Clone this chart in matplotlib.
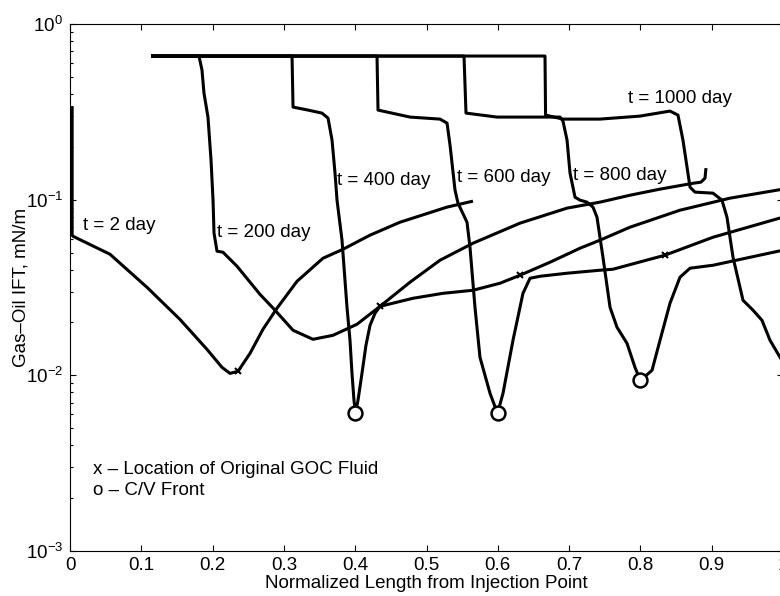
import numpy as np
import matplotlib
matplotlib.use('Agg')
import matplotlib.pyplot as plt
from matplotlib.ticker import LogLocator, NullFormatter

plt.rcParams['font.family'] = ['Liberation Sans', 'DejaVu Sans']
plt.rcParams['mathtext.default'] = 'regular'
plt.rcParams['font.size'] = 13.5

# IFT profiles (normalized length, IFT in mN/m)
x_2 = [0.003, 0.003, 0.0042, 0.0561, 0.108, 0.1543, 0.1921, 0.2132, 0.2244, 0.2356,
       0.2525, 0.2707, 0.2903, 0.3184, 0.3548, 0.3829, 0.4208, 0.4628, 0.5288, 0.5652]
ift_2 = [0.341, 0.0628, 0.0619, 0.0489, 0.0317, 0.0208, 0.01406, 0.0111, 0.01026, 0.01054,
         0.01334, 0.0183, 0.0241, 0.0343, 0.0464, 0.0522, 0.0628, 0.0744, 0.0907, 0.0981]

x_200 = [0.1136, 0.1809, 0.1851, 0.1879, 0.1935, 0.1978, 0.2006, 0.2020, 0.2062, 0.2146,
         0.2342, 0.2665, 0.2875, 0.3128, 0.3408, 0.3689, 0.4025, 0.4348, 0.4769, 0.5189,
         0.5652, 0.6311, 0.6971, 0.7433, 0.7854, 0.8275, 0.8738, 0.8850, 0.8906, 0.8920]
ift_200 = [0.657, 0.657, 0.547, 0.4045, 0.2952, 0.168, 0.0994, 0.0644, 0.0509, 0.0502,
           0.0418, 0.0289, 0.0235, 0.01805, 0.01604, 0.0169, 0.01953, 0.0247, 0.0339, 0.0452,
           0.0565, 0.0735, 0.0895, 0.0968, 0.106, 0.1148, 0.124, 0.1258, 0.1326, 0.1512]

x_400 = [0.1136, 0.3114, 0.3128, 0.3338, 0.3534, 0.3619, 0.3675, 0.3717, 0.3745, 0.3815,
         0.3885, 0.3927, 0.3955, 0.3983, 0.4004, 0.4039, 0.4095, 0.4151, 0.4208, 0.4278,
         0.4348, 0.4811, 0.5231, 0.5652, 0.6031, 0.6311, 0.6732, 0.7153, 0.7433, 0.7854,
         0.8555, 0.9257, 1.0]
ift_400 = [0.657, 0.657, 0.3365, 0.3236, 0.311, 0.2913, 0.2183, 0.1416, 0.0994, 0.0588,
           0.0244, 0.01583, 0.01026, 0.0072, 0.00607, 0.0072, 0.01026, 0.01483, 0.01927, 0.02256,
           0.0247, 0.02746, 0.0293, 0.0305, 0.03344, 0.03713, 0.04404, 0.05292, 0.0588, 0.0697,
           0.0871, 0.102, 0.1148]

x_600 = [0.1136, 0.4306, 0.432, 0.4769, 0.5189, 0.5288, 0.533, 0.54, 0.5442, 0.5568,
         0.561, 0.568, 0.575, 0.5891, 0.5996, 0.6073, 0.6213, 0.6353, 0.6452, 0.6592,
         0.6971, 0.7433, 0.7616, 0.8345, 0.9018, 1.0]
ift_600 = [0.657, 0.657, 0.3236, 0.2952, 0.2875, 0.2728, 0.2044, 0.1133, 0.0955, 0.0744,
           0.0536, 0.0244, 0.01267, 0.0079, 0.00607, 0.0079, 0.01583, 0.0293, 0.0357, 0.03664,
           0.03813, 0.03966, 0.04018, 0.0483, 0.0611, 0.0795]

x_800 = [0.1136, 0.5526, 0.5554, 0.5989, 0.669, 0.6872, 0.6914, 0.6971, 0.7013, 0.7083,
         0.7153, 0.7251, 0.7335, 0.7391, 0.7475, 0.7574, 0.7672, 0.7812, 0.7924, 0.8,
         0.8163, 0.8275, 0.8415, 0.8555, 0.8696, 0.9018, 1.0]
ift_800 = [0.657, 0.657, 0.311, 0.2952, 0.2952, 0.2952, 0.2802, 0.2183, 0.1416, 0.1033,
           0.0994, 0.0968, 0.0907, 0.0795, 0.047, 0.0244, 0.01877, 0.01522, 0.0111, 0.00936,
           0.01068, 0.01583, 0.02572, 0.03617, 0.04073, 0.04233, 0.05157]

x_1000 = [0.1136, 0.6662, 0.667, 0.6914, 0.7433, 0.7994, 0.8415, 0.8527, 0.8597, 0.8696,
          0.8766, 0.9018, 0.9144, 0.9214, 0.9299, 0.9439, 0.9579, 0.9705, 0.9818, 1.0]
ift_1000 = [0.657, 0.657, 0.303, 0.2875, 0.2875, 0.299, 0.3194, 0.303, 0.2183, 0.1178,
            0.1104, 0.1089, 0.0994, 0.0795, 0.047, 0.02675, 0.0235, 0.02058, 0.01583, 0.01186]

# original GOC fluid locations (x) and C/V fronts (o)
goc_x = [0.2356, 0.4348, 0.6311, 0.8345]
goc_ift = [0.01054, 0.0247, 0.03713, 0.0483]
cv_x = [0.4004, 0.5996, 0.8]
cv_ift = [0.00607, 0.00607, 0.00936]

labels = ['t = 2 day', 't = 200 day', 't = 400 day', 't = 600 day', 't = 800 day', 't = 1000 day']
label_x = [0.018, 0.206, 0.3745, 0.543, 0.7055, 0.7826]
label_y = [0.0716, 0.0653, 0.129, 0.134, 0.138, 0.379]

fig = plt.figure(figsize=(7.8, 5.96), dpi=100)
# axes runs slightly past the right edge, as in the original figure
ax = fig.add_axes([70 / 780, 45 / 596, 713 / 780, 527 / 596])

for xs, ys in [(x_2, ift_2), (x_200, ift_200), (x_400, ift_400),
               (x_600, ift_600), (x_800, ift_800), (x_1000, ift_1000)]:
    ax.plot(xs, ys, color='black', lw=2.2, solid_joinstyle='round', solid_capstyle='butt')

ax.plot(goc_x, goc_ift, 'x', color='black', ms=5, mew=1.5, zorder=4)
ax.plot(cv_x, cv_ift, 'o', color='black', mfc='white', ms=10, mew=1.8, zorder=5)

for lab, lx, ly in zip(labels, label_x, label_y):
    ax.text(lx, ly, lab, ha='left', va='center')

ax.text(0.032, 0.0029, 'x \u2013 Location of Original GOC Fluid', ha='left', va='center')
ax.text(0.032, 0.0022, 'o \u2013 C/V Front', ha='left', va='center')

ax.set_yscale('log')
ax.set_xlim(0, 1)
ax.set_ylim(1e-3, 1)
ax.set_xticks(np.arange(0, 1.01, 0.1))
ax.set_xticklabels(['0', '0.1', '0.2', '0.3', '0.4', '0.5', '0.6', '0.7', '0.8', '0.9', '1'])
ax.yaxis.set_major_locator(LogLocator(base=10))
ax.yaxis.set_minor_locator(LogLocator(base=10, subs=np.arange(2, 10)))
ax.yaxis.set_minor_formatter(NullFormatter())

ax.tick_params(which='both', direction='in', top=True, right=True, width=0.8)
ax.tick_params(which='major', length=4.3)
ax.tick_params(which='minor', length=2.5)
ax.tick_params(axis='x', pad=4)
ax.tick_params(axis='y', pad=5)
for sp in ax.spines.values():
    sp.set_linewidth(0.8)

ax.set_xlabel('Normalized Length from Injection Point')
ax.set_ylabel('Gas\u2013Oil IFT, mN/m')
ax.xaxis.set_label_coords(0.5, -0.0455)
ax.yaxis.set_label_coords(-0.057, 0.5)

fig.savefig('out.png', dpi=100)
